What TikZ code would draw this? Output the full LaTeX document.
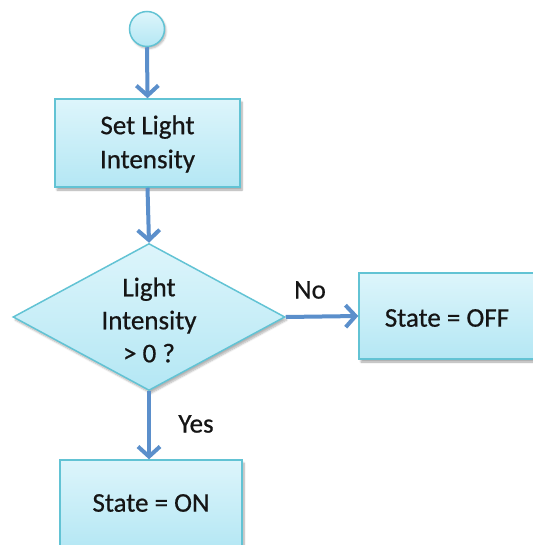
\documentclass[tikz,border=0pt]{standalone}
\usepackage{fontspec}
\setmainfont{Carlito}
\newfontfamily\labelfont[FakeBold=0.6]{Carlito}
\usetikzlibrary{arrows.meta,shapes.geometric,shadows.blur}
\definecolor{boxtop}{HTML}{DDF5FB}
\definecolor{boxbot}{HTML}{B4E7F4}
\definecolor{boxline}{HTML}{62C3D4}
\definecolor{arrowc}{HTML}{5B8FCB}
\definecolor{txt}{HTML}{151515}
\tikzset{
  flowbox/.style={rectangle, draw=boxline, line width=1.5pt, top color=boxtop, bottom color=boxbot,
    blur shadow={shadow xshift=2pt, shadow yshift=-3pt, shadow blur steps=6, shadow opacity=35},
    inner sep=0pt},
  flowdiam/.style={diamond, draw=boxline, line width=1.5pt, top color=boxtop, bottom color=boxbot,
    blur shadow={shadow xshift=2pt, shadow yshift=-3pt, shadow blur steps=6, shadow opacity=30},
    inner sep=0pt},
  lbl/.style={font=\labelfont\fontsize{27}{34}\selectfont, text=txt, align=center, inner sep=0pt},
  flowarrow/.style={draw=arrowc, line width=4pt, -{Straight Barb[length=10pt,width=22pt,line width=4pt]}},
}
\begin{document}
\begin{tikzpicture}[x=1pt,y=-1pt]
\useasboundingbox (0,0) rectangle (532,545);
% start circle
\node[circle, draw=boxline, line width=1.5pt, top color=boxtop, bottom color=boxbot,
  blur shadow={shadow xshift=1.5pt, shadow yshift=-2pt, shadow blur steps=5, shadow opacity=30},
  minimum size=35pt, inner sep=0pt] (start) at (147,29) {};
% set light intensity
\node[flowbox, minimum width=185pt, minimum height=88pt] (set) at (147.5,143) {};
\node[lbl] (settext) at (147.5,144) {Set Light\\Intensity};
% decision
\node[flowdiam, minimum width=272pt, minimum height=147pt] (dec) at (149,317) {};
\node[lbl, font=\labelfont\fontsize{27}{33}\selectfont] (dectext) at (149,320) {Light\\Intensity\\> 0 ?};
% off
\node[flowbox, minimum width=200pt, minimum height=86pt] (off) at (459,316) {};
\node[lbl] (offtext) at (447,318) {State = OFF};
% on
\node[flowbox, minimum width=182pt, minimum height=90pt] (on) at (151,505) {};
\node[lbl] (ontext) at (151,503) {State = ON};
% connectors
\draw[flowarrow] (start.south) -- (set.north);
\draw[flowarrow] (set.south) -- (dec.north);
\draw[flowarrow] (dec.east) -- (off.west);
\draw[flowarrow] (dec.south) -- (dec.south |- on.north);
% labels
\node[lbl] (no) at (310,290) {No};
\node[lbl] (yes) at (196,424) {Yes};
\end{tikzpicture}
\end{document}
